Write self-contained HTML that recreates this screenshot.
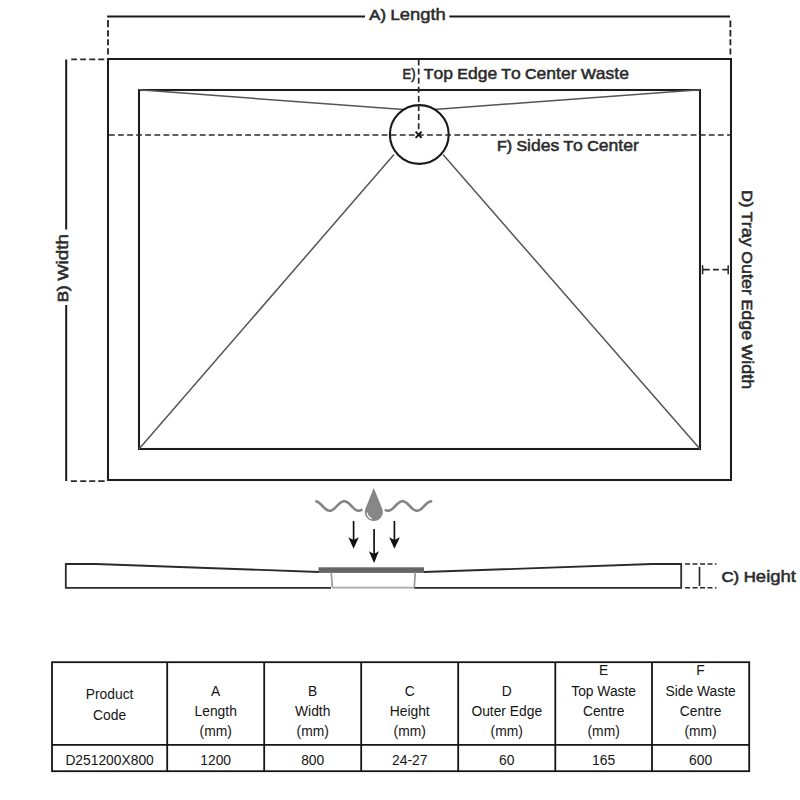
<!DOCTYPE html>
<html><head><meta charset="utf-8">
<style>
html,body{margin:0;padding:0;background:#fff;width:800px;height:800px;overflow:hidden}
svg{position:absolute;left:0;top:0}
.lbl{font-family:"Liberation Sans",sans-serif;font-weight:normal;font-size:15px;fill:#2b2b2b;stroke:#2b2b2b;stroke-width:0.65px}
.lbl .lc{font-size:16.6px;stroke-width:0.5px}
.tb{font-family:"Liberation Sans",sans-serif;font-size:14.5px;fill:#151515}
</style></head><body>
<svg width="800" height="800" viewBox="0 0 800 800">
<!-- A) length dimension -->
<path d="M107.1 16.4 H365 M449.3 16.4 H730" stroke="#1a1a1a" stroke-width="2" fill="none"/>
<path d="M108 20 V27.25 M108 30.25 V36.6 M108 39.25 V45.25 M108 48.25 V54.6 M730.4 20.5 V27.25 M730.4 29.9 V36.6 M730.4 39.25 V45.25 M730.4 48.6 V54.6" stroke="#222" stroke-width="1.8" fill="none"/>
<text class="lbl" x="369.3" y="20.3" textLength="76.5" lengthAdjust="spacingAndGlyphs">A) L<tspan class="lc">ength</tspan></text>
<!-- B) width -->
<path d="M66.2 59.6 V229.4 M66.2 305 V481" stroke="#1a1a1a" stroke-width="2" fill="none"/>
<path d="M71.25 59.4 H76.9 M80.25 59.4 H85.9 M89.25 59.4 H95.25 M98.25 59.4 H104.25 M70.9 481.1 H76.9 M80.25 481.1 H86.25 M89.25 481.1 H95.25 M98.25 481.1 H104.6" stroke="#2a2a2a" stroke-width="1.8" fill="none"/>
<text class="lbl" transform="translate(68.4,302.3) rotate(-90)" x="0" y="0" textLength="68.3" lengthAdjust="spacingAndGlyphs">B) W<tspan class="lc">idth</tspan></text>
<!-- outer tray -->
<rect x="108" y="59" width="623" height="421" stroke="#1c1c1c" stroke-width="2.05" fill="none"/>
<!-- inner -->
<rect x="139" y="90" width="561" height="359" stroke="#1c1c1c" stroke-width="2.05" fill="none"/>
<!-- diagonals -->
<path d="M139 89.8 L403.5 109.6 M700 89.8 L434.3 109.4 M139 449 L394 154.6 M700 449 L443 154.6" stroke="#555" stroke-width="1.5" fill="none"/>
<!-- circle -->
<circle cx="419.3" cy="134.5" r="29.4" stroke="#1a1a1a" stroke-width="2.1" fill="none"/>
<!-- dashed centre lines -->
<path d="M108.9 135 H731" stroke="#2a2a2a" stroke-width="1.7" stroke-dasharray="5.8 3.29" fill="none"/>
<path d="M418.7 59.5 V129.3" stroke="#2a2a2a" stroke-width="1.7" stroke-dasharray="6 3.1" fill="none"/>
<path d="M415.6 131.6 L421.6 137.8 M421.6 131.6 L415.6 137.8" stroke="#111" stroke-width="1.9"/>
<text class="lbl" x="402.5" y="79" textLength="13" lengthAdjust="spacingAndGlyphs">E)</text><text class="lbl" x="423.75" y="79" textLength="205.25" lengthAdjust="spacingAndGlyphs">T<tspan class="lc">op</tspan> E<tspan class="lc">dge</tspan> T<tspan class="lc">o</tspan> C<tspan class="lc">enter</tspan> W<tspan class="lc">aste</tspan></text>
<text class="lbl" x="497" y="151.25" textLength="141.8" lengthAdjust="spacingAndGlyphs">F) S<tspan class="lc">ides</tspan> T<tspan class="lc">o</tspan> C<tspan class="lc">enter</tspan></text>
<!-- D) -->
<path d="M702.5 269.65 H709.75 M713 269.65 H718.75 M722.25 269.65 H728" stroke="#262626" stroke-width="1.7" fill="none"/>
<path d="M702.6 265.3 V274.3 M728.2 265.3 V274.3" stroke="#262626" stroke-width="1.5" fill="none"/>
<text class="lbl" transform="translate(741.8,190.3) rotate(90)" x="0" y="0" textLength="199" lengthAdjust="spacingAndGlyphs">D) T<tspan class="lc">ray</tspan> O<tspan class="lc">uter</tspan> E<tspan class="lc">dge</tspan> W<tspan class="lc">idth</tspan></text>

<!-- waste icon -->
<path d="M315.30 501.30 L315.79 501.34 L316.29 501.43 L316.78 501.57 L317.28 501.77 L317.77 502.01 L318.27 502.30 L318.76 502.63 L319.26 503.00 L319.75 503.41 L320.25 503.84 L320.74 504.30 L321.24 504.78 L321.73 505.27 L322.23 505.77 L322.72 506.28 L323.22 506.78 L323.71 507.27 L324.21 507.74 L324.70 508.20 L325.19 508.63 L325.69 509.03 L326.18 509.40 L326.68 509.73 L327.17 510.01 L327.67 510.25 L328.16 510.44 L328.66 510.58 L329.15 510.67 L329.65 510.70 L330.14 510.68 L330.64 510.60 L331.13 510.48 L331.63 510.30 L332.12 510.07 L332.62 509.79 L333.11 509.47 L333.61 509.12 L334.10 508.72 L334.59 508.30 L335.09 507.84 L335.58 507.37 L336.08 506.88 L336.57 506.38 L337.07 505.88 L337.56 505.38 L338.06 504.88 L338.55 504.40 L339.05 503.94 L339.54 503.50 L340.04 503.09 L340.53 502.71 L341.03 502.37 L341.52 502.07 L342.02 501.82 L342.51 501.61 L343.01 501.46 L343.50 501.35 L343.99 501.30 L344.49 501.31 L344.98 501.37 L345.48 501.48 L345.97 501.64 L346.47 501.86 L346.96 502.12 L347.46 502.42 L347.95 502.77 L348.45 503.15 L348.94 503.57 L349.44 504.01 L349.93 504.48 L350.43 504.97 L350.92 505.46 L351.42 505.97 L351.91 506.47 L352.41 506.97 L352.90 507.45 L353.39 507.92 L353.89 508.37 L354.38 508.79 L354.88 509.18 L355.37 509.53 L355.87 509.84 L356.36 510.11 L356.86 510.33 L357.35 510.50 L357.85 510.62 L358.34 510.69 L358.84 510.70 L359.33 510.66 L359.83 510.56 L360.32 510.41 L360.82 510.21 L361.31 509.97 L361.81 509.68 L362.30 509.34" stroke="#858585" stroke-width="2.6" fill="none" stroke-linecap="butt"/>
<path d="M384.80 509.61 L385.30 509.92 L385.80 510.18 L386.30 510.38 L386.80 510.54 L387.29 510.65 L387.79 510.70 L388.29 510.69 L388.79 510.63 L389.29 510.52 L389.79 510.35 L390.29 510.13 L390.79 509.87 L391.29 509.56 L391.79 509.21 L392.28 508.82 L392.78 508.39 L393.28 507.94 L393.78 507.47 L394.28 506.98 L394.78 506.48 L395.28 505.97 L395.78 505.46 L396.28 504.96 L396.77 504.48 L397.27 504.00 L397.77 503.56 L398.27 503.14 L398.77 502.75 L399.27 502.41 L399.77 502.10 L400.27 501.84 L400.77 501.63 L401.27 501.47 L401.76 501.36 L402.26 501.31 L402.76 501.31 L403.26 501.36 L403.76 501.47 L404.26 501.64 L404.76 501.85 L405.26 502.11 L405.76 502.42 L406.25 502.77 L406.75 503.16 L407.25 503.58 L407.75 504.03 L408.25 504.50 L408.75 504.99 L409.25 505.49 L409.75 506.00 L410.25 506.50 L410.75 507.01 L411.24 507.50 L411.74 507.97 L412.24 508.42 L412.74 508.84 L413.24 509.22 L413.74 509.57 L414.24 509.88 L414.74 510.15 L415.24 510.36 L415.73 510.52 L416.23 510.64 L416.73 510.69 L417.23 510.69 L417.73 510.64 L418.23 510.53 L418.73 510.37 L419.23 510.16 L419.73 509.90 L420.23 509.60 L420.72 509.25 L421.22 508.87 L421.72 508.45 L422.22 508.00 L422.72 507.53 L423.22 507.04 L423.72 506.54 L424.22 506.03 L424.72 505.53 L425.21 505.02 L425.71 504.53 L426.21 504.06 L426.71 503.61 L427.21 503.19 L427.71 502.80 L428.21 502.45 L428.71 502.13 L429.21 501.87 L429.71 501.65 L430.20 501.48 L430.70 501.37 L431.20 501.31 L431.70 501.30 L432.20 501.35" stroke="#858585" stroke-width="2.6" fill="none" stroke-linecap="butt"/>
<path d="M373.8 488.0 L382.14 508.62 A9.0 9.0 0 1 1 365.46 508.62 Z" fill="#878787"/>
<path d="M367 512.6 A7.5 7.5 0 0 0 371.6 518.6" stroke="#fff" stroke-width="1.2" fill="none"/>
<path d="M353.6 521 V540" stroke="#111" stroke-width="1.7"/>
<path d="M353.6 548.7 L348.3 537.3 L353.6 540 L358.8 537.3 Z" fill="#111"/>
<path d="M394.4 521 V540" stroke="#111" stroke-width="1.7"/>
<path d="M394.4 548.7 L389.2 537.3 L394.4 540 L399.9 537.3 Z" fill="#111"/>
<path d="M374.1 529 V554" stroke="#111" stroke-width="1.7"/>
<path d="M374.1 563.1 L368.9 551.3 L374.1 553.9 L378.9 551.3 Z" fill="#111"/>
<!-- tray profile -->
<path d="M319 572 L96 564 H65.8 V587.8 H331 M414 587.8 H681.2 V564 H652 L424 572" stroke="#2a2a2a" stroke-width="1.8" fill="none"/>
<rect x="318.5" y="567.3" width="105.5" height="5.6" fill="#666"/>
<path d="M331.2 572.5 L332.4 587.5 M415.3 572.5 L414.3 587.5" stroke="#9a9a9a" stroke-width="1.7" fill="none"/>
<path d="M332.4 587.7 H414.3" stroke="#a8a8a8" stroke-width="1.8"/>
<!-- C) -->
<path d="M685 564 H716.5 M685 587.8 H716.5" stroke="#2a2a2a" stroke-width="1.6" stroke-dasharray="5 2.5" fill="none"/>
<path d="M699.5 566.8 V586" stroke="#222" stroke-width="1.6"/>
<text class="lbl" x="721.5" y="581.8" textLength="74.5" lengthAdjust="spacingAndGlyphs">C) H<tspan class="lc">eight</tspan></text>

<!-- table -->
<g stroke="#151515" stroke-width="1.8" fill="none">
<rect x="52" y="662.2" width="697.2" height="109"/>
<path d="M52 744.8 H749.2 M167.2 662.2 V771.2 M264.2 662.2 V771.2 M361.2 662.2 V771.2 M458.2 662.2 V771.2 M555.3 662.2 V771.2 M652 662.2 V771.2"/>
</g>
<g class="tb" text-anchor="middle" transform="scale(0.955 1)">
<text x="114.76" y="699.4">Product</text>
<text x="114.76" y="720.2">Code</text>
<text x="225.86" y="695.6">A</text>
<text x="225.86" y="715.8">Length</text>
<text x="225.86" y="736">(mm)</text>
<text x="327.43" y="695.6">B</text>
<text x="327.43" y="715.8">Width</text>
<text x="327.43" y="736">(mm)</text>
<text x="429.01" y="695.6">C</text>
<text x="429.01" y="715.8">Height</text>
<text x="429.01" y="736">(mm)</text>
<text x="530.63" y="695.6">D</text>
<text x="530.63" y="715.8">Outer Edge</text>
<text x="530.63" y="736">(mm)</text>
<text x="632.09" y="675.2">E</text>
<text x="632.09" y="695.6">Top Waste</text>
<text x="632.09" y="715.8">Centre</text>
<text x="632.09" y="736">(mm)</text>
<text x="733.61" y="675.2">F</text>
<text x="733.61" y="695.6">Side Waste</text>
<text x="733.61" y="715.8">Centre</text>
<text x="733.61" y="736">(mm)</text>
<text x="114.76" y="764.6">D251200X800</text>
<text x="225.86" y="764.6">1200</text>
<text x="327.43" y="764.6">800</text>
<text x="429.01" y="764.6">24-27</text>
<text x="530.63" y="764.6">60</text>
<text x="632.09" y="764.6">165</text>
<text x="733.61" y="764.6">600</text>
</g>
</svg>
</body></html>
